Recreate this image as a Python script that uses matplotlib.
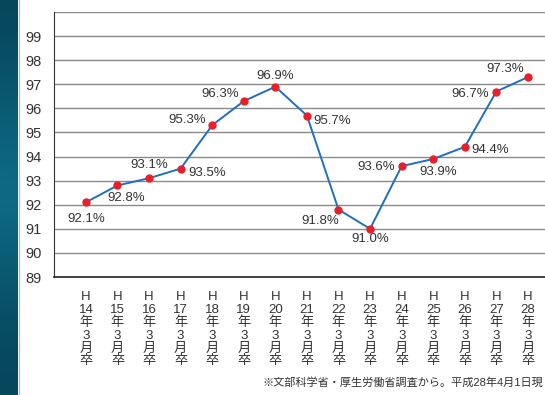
import matplotlib.pyplot as plt
import numpy as np
from matplotlib.colors import LinearSegmentedColormap

# data
years = ["14", "15", "16", "17", "18", "19", "20", "21", "22", "23", "24", "25", "26", "27", "28"]
rates = [92.1, 92.8, 93.1, 93.5, 95.3, 96.3, 96.9, 95.7, 91.8, 91.0, 93.6, 93.9, 94.4, 96.7, 97.3]
# label offsets in pixels (dx, dy) relative to each point
offsets = [(0, -17), (9, -13), (0, 13), (27, -4), (-25, 5), (-24, 7), (0, 11), (25, -5),
           (-18, -11), (0, -10), (-25, -1), (5, -13), (25, -3), (-26, -2), (-23, 8)]
yticks = list(range(89, 100))
note = "※文部科学省・厚生労働省調査から。平成28年4月1日現"

fonts = ["Liberation Sans", "Noto Sans CJK JP"]
plt.rcParams["font.family"] = fonts

fig = plt.figure(figsize=(5.45, 3.95), dpi=100)

# dark teal strip on the left
strip = fig.add_axes([0, 0, 18 / 545, 1])
grad = np.array([[0.0], [0.35], [0.6], [0.85], [0.5], [0.2], [0.0]])
cmap = LinearSegmentedColormap.from_list("teal", ["#06475c", "#0e6d88"])
strip.imshow(grad, aspect="auto", cmap=cmap, interpolation="bicubic", extent=[0, 1, 0, 1])
strip.axis("off")
fig.add_artist(plt.Line2D([18.5 / 545, 18.5 / 545], [0, 1], color="#bbbbbb", lw=1))

ax = fig.add_axes([54 / 545, 118 / 395, 491 / 545, 265 / 395])
x = np.arange(len(years))
ax.plot(x, rates, color="#1f6fbf", lw=1.4, zorder=3)
ax.plot(x, rates, "o", color="#e8202a", ms=5, zorder=4)

for xi, r, (dx, dy) in zip(x, rates, offsets):
    ax.annotate(f"{r:.1f}%", (xi, r), xytext=(dx, dy), textcoords="offset pixels",
                ha="center", va="center", fontsize=9.5, color="#333333")

ax.set_ylim(89, 100)
ax.set_xlim(-1.01, 14.54)
ax.set_yticks(yticks)
ax.set_yticklabels([str(t) for t in yticks], fontsize=10.5, color="#333333")
for t in range(90, 101):
    ax.axhline(t, color="#8a8a8a", lw=1, zorder=1)

ax.set_xticks(x)
ax.set_xticklabels(["H\n" + y + "\n年\n3\n月\n卒" for y in years], fontsize=9.5,
                   color="#333333", linespacing=1.08, va="top")
ax.tick_params(axis="both", length=0)
ax.tick_params(axis="x", pad=10)
ax.tick_params(axis="y", pad=9)

ax.spines["top"].set_visible(False)
ax.spines["right"].set_visible(False)
ax.spines["left"].set_color("#333333")
ax.spines["bottom"].set_color("#333333")
ax.spines["bottom"].set_linewidth(1.3)

fig.text(543 / 545, 1 - 382 / 395, note, fontsize=8, color="#333333", va="center", ha="right")

fig.savefig("out.png", dpi=100)
